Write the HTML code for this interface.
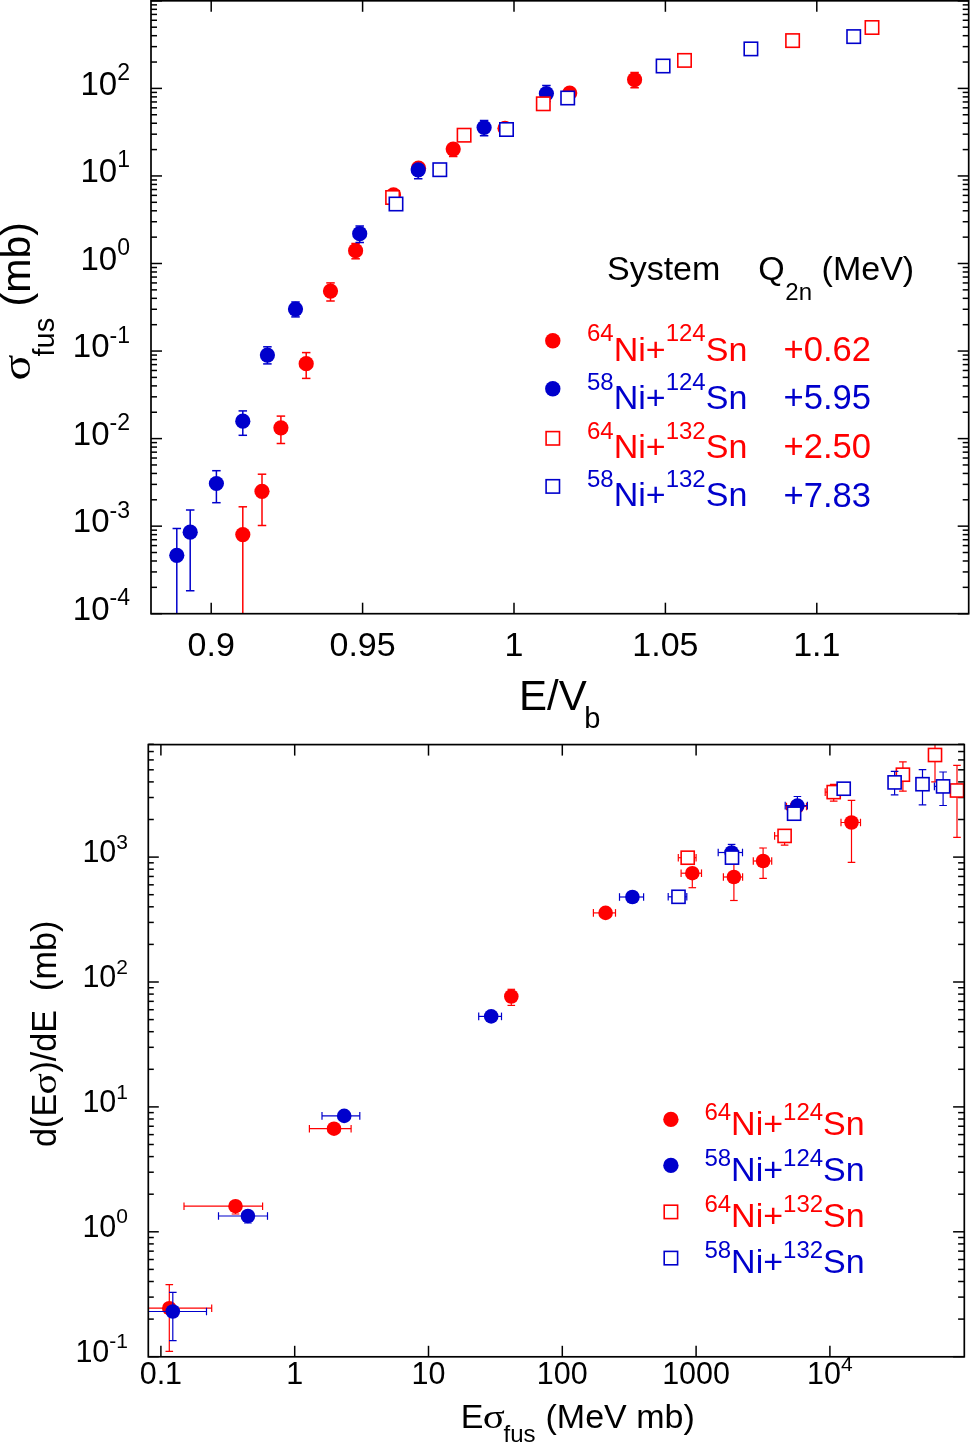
<!DOCTYPE html>
<html><head><meta charset="utf-8"><style>
html,body{margin:0;padding:0;background:#fff;}
svg.main{display:block;will-change:transform;}

</style></head><body>
<svg class="main" width="970" height="1443" viewBox="0 0 970 1443" font-family='"Liberation Sans", sans-serif'>
<rect width="970" height="1443" fill="#fff"/>
<line x1="151.00" y1="613.70" x2="162.00" y2="613.70" stroke="#000" stroke-width="1.5"/>
<line x1="957.70" y1="613.70" x2="968.70" y2="613.70" stroke="#000" stroke-width="1.5"/>
<line x1="151.00" y1="587.34" x2="157.00" y2="587.34" stroke="#000" stroke-width="1.5"/>
<line x1="962.70" y1="587.34" x2="968.70" y2="587.34" stroke="#000" stroke-width="1.5"/>
<line x1="151.00" y1="571.93" x2="157.00" y2="571.93" stroke="#000" stroke-width="1.5"/>
<line x1="962.70" y1="571.93" x2="968.70" y2="571.93" stroke="#000" stroke-width="1.5"/>
<line x1="151.00" y1="560.99" x2="157.00" y2="560.99" stroke="#000" stroke-width="1.5"/>
<line x1="962.70" y1="560.99" x2="968.70" y2="560.99" stroke="#000" stroke-width="1.5"/>
<line x1="151.00" y1="552.51" x2="157.00" y2="552.51" stroke="#000" stroke-width="1.5"/>
<line x1="962.70" y1="552.51" x2="968.70" y2="552.51" stroke="#000" stroke-width="1.5"/>
<line x1="151.00" y1="545.57" x2="157.00" y2="545.57" stroke="#000" stroke-width="1.5"/>
<line x1="962.70" y1="545.57" x2="968.70" y2="545.57" stroke="#000" stroke-width="1.5"/>
<line x1="151.00" y1="539.71" x2="157.00" y2="539.71" stroke="#000" stroke-width="1.5"/>
<line x1="962.70" y1="539.71" x2="968.70" y2="539.71" stroke="#000" stroke-width="1.5"/>
<line x1="151.00" y1="534.63" x2="157.00" y2="534.63" stroke="#000" stroke-width="1.5"/>
<line x1="962.70" y1="534.63" x2="968.70" y2="534.63" stroke="#000" stroke-width="1.5"/>
<line x1="151.00" y1="530.16" x2="157.00" y2="530.16" stroke="#000" stroke-width="1.5"/>
<line x1="962.70" y1="530.16" x2="968.70" y2="530.16" stroke="#000" stroke-width="1.5"/>
<line x1="151.00" y1="526.15" x2="162.00" y2="526.15" stroke="#000" stroke-width="1.5"/>
<line x1="957.70" y1="526.15" x2="968.70" y2="526.15" stroke="#000" stroke-width="1.5"/>
<line x1="151.00" y1="499.79" x2="157.00" y2="499.79" stroke="#000" stroke-width="1.5"/>
<line x1="962.70" y1="499.79" x2="968.70" y2="499.79" stroke="#000" stroke-width="1.5"/>
<line x1="151.00" y1="484.38" x2="157.00" y2="484.38" stroke="#000" stroke-width="1.5"/>
<line x1="962.70" y1="484.38" x2="968.70" y2="484.38" stroke="#000" stroke-width="1.5"/>
<line x1="151.00" y1="473.44" x2="157.00" y2="473.44" stroke="#000" stroke-width="1.5"/>
<line x1="962.70" y1="473.44" x2="968.70" y2="473.44" stroke="#000" stroke-width="1.5"/>
<line x1="151.00" y1="464.96" x2="157.00" y2="464.96" stroke="#000" stroke-width="1.5"/>
<line x1="962.70" y1="464.96" x2="968.70" y2="464.96" stroke="#000" stroke-width="1.5"/>
<line x1="151.00" y1="458.02" x2="157.00" y2="458.02" stroke="#000" stroke-width="1.5"/>
<line x1="962.70" y1="458.02" x2="968.70" y2="458.02" stroke="#000" stroke-width="1.5"/>
<line x1="151.00" y1="452.16" x2="157.00" y2="452.16" stroke="#000" stroke-width="1.5"/>
<line x1="962.70" y1="452.16" x2="968.70" y2="452.16" stroke="#000" stroke-width="1.5"/>
<line x1="151.00" y1="447.08" x2="157.00" y2="447.08" stroke="#000" stroke-width="1.5"/>
<line x1="962.70" y1="447.08" x2="968.70" y2="447.08" stroke="#000" stroke-width="1.5"/>
<line x1="151.00" y1="442.61" x2="157.00" y2="442.61" stroke="#000" stroke-width="1.5"/>
<line x1="962.70" y1="442.61" x2="968.70" y2="442.61" stroke="#000" stroke-width="1.5"/>
<line x1="151.00" y1="438.60" x2="162.00" y2="438.60" stroke="#000" stroke-width="1.5"/>
<line x1="957.70" y1="438.60" x2="968.70" y2="438.60" stroke="#000" stroke-width="1.5"/>
<line x1="151.00" y1="412.24" x2="157.00" y2="412.24" stroke="#000" stroke-width="1.5"/>
<line x1="962.70" y1="412.24" x2="968.70" y2="412.24" stroke="#000" stroke-width="1.5"/>
<line x1="151.00" y1="396.83" x2="157.00" y2="396.83" stroke="#000" stroke-width="1.5"/>
<line x1="962.70" y1="396.83" x2="968.70" y2="396.83" stroke="#000" stroke-width="1.5"/>
<line x1="151.00" y1="385.89" x2="157.00" y2="385.89" stroke="#000" stroke-width="1.5"/>
<line x1="962.70" y1="385.89" x2="968.70" y2="385.89" stroke="#000" stroke-width="1.5"/>
<line x1="151.00" y1="377.41" x2="157.00" y2="377.41" stroke="#000" stroke-width="1.5"/>
<line x1="962.70" y1="377.41" x2="968.70" y2="377.41" stroke="#000" stroke-width="1.5"/>
<line x1="151.00" y1="370.47" x2="157.00" y2="370.47" stroke="#000" stroke-width="1.5"/>
<line x1="962.70" y1="370.47" x2="968.70" y2="370.47" stroke="#000" stroke-width="1.5"/>
<line x1="151.00" y1="364.61" x2="157.00" y2="364.61" stroke="#000" stroke-width="1.5"/>
<line x1="962.70" y1="364.61" x2="968.70" y2="364.61" stroke="#000" stroke-width="1.5"/>
<line x1="151.00" y1="359.53" x2="157.00" y2="359.53" stroke="#000" stroke-width="1.5"/>
<line x1="962.70" y1="359.53" x2="968.70" y2="359.53" stroke="#000" stroke-width="1.5"/>
<line x1="151.00" y1="355.06" x2="157.00" y2="355.06" stroke="#000" stroke-width="1.5"/>
<line x1="962.70" y1="355.06" x2="968.70" y2="355.06" stroke="#000" stroke-width="1.5"/>
<line x1="151.00" y1="351.05" x2="162.00" y2="351.05" stroke="#000" stroke-width="1.5"/>
<line x1="957.70" y1="351.05" x2="968.70" y2="351.05" stroke="#000" stroke-width="1.5"/>
<line x1="151.00" y1="324.69" x2="157.00" y2="324.69" stroke="#000" stroke-width="1.5"/>
<line x1="962.70" y1="324.69" x2="968.70" y2="324.69" stroke="#000" stroke-width="1.5"/>
<line x1="151.00" y1="309.28" x2="157.00" y2="309.28" stroke="#000" stroke-width="1.5"/>
<line x1="962.70" y1="309.28" x2="968.70" y2="309.28" stroke="#000" stroke-width="1.5"/>
<line x1="151.00" y1="298.34" x2="157.00" y2="298.34" stroke="#000" stroke-width="1.5"/>
<line x1="962.70" y1="298.34" x2="968.70" y2="298.34" stroke="#000" stroke-width="1.5"/>
<line x1="151.00" y1="289.86" x2="157.00" y2="289.86" stroke="#000" stroke-width="1.5"/>
<line x1="962.70" y1="289.86" x2="968.70" y2="289.86" stroke="#000" stroke-width="1.5"/>
<line x1="151.00" y1="282.92" x2="157.00" y2="282.92" stroke="#000" stroke-width="1.5"/>
<line x1="962.70" y1="282.92" x2="968.70" y2="282.92" stroke="#000" stroke-width="1.5"/>
<line x1="151.00" y1="277.06" x2="157.00" y2="277.06" stroke="#000" stroke-width="1.5"/>
<line x1="962.70" y1="277.06" x2="968.70" y2="277.06" stroke="#000" stroke-width="1.5"/>
<line x1="151.00" y1="271.98" x2="157.00" y2="271.98" stroke="#000" stroke-width="1.5"/>
<line x1="962.70" y1="271.98" x2="968.70" y2="271.98" stroke="#000" stroke-width="1.5"/>
<line x1="151.00" y1="267.51" x2="157.00" y2="267.51" stroke="#000" stroke-width="1.5"/>
<line x1="962.70" y1="267.51" x2="968.70" y2="267.51" stroke="#000" stroke-width="1.5"/>
<line x1="151.00" y1="263.50" x2="162.00" y2="263.50" stroke="#000" stroke-width="1.5"/>
<line x1="957.70" y1="263.50" x2="968.70" y2="263.50" stroke="#000" stroke-width="1.5"/>
<line x1="151.00" y1="237.14" x2="157.00" y2="237.14" stroke="#000" stroke-width="1.5"/>
<line x1="962.70" y1="237.14" x2="968.70" y2="237.14" stroke="#000" stroke-width="1.5"/>
<line x1="151.00" y1="221.73" x2="157.00" y2="221.73" stroke="#000" stroke-width="1.5"/>
<line x1="962.70" y1="221.73" x2="968.70" y2="221.73" stroke="#000" stroke-width="1.5"/>
<line x1="151.00" y1="210.79" x2="157.00" y2="210.79" stroke="#000" stroke-width="1.5"/>
<line x1="962.70" y1="210.79" x2="968.70" y2="210.79" stroke="#000" stroke-width="1.5"/>
<line x1="151.00" y1="202.31" x2="157.00" y2="202.31" stroke="#000" stroke-width="1.5"/>
<line x1="962.70" y1="202.31" x2="968.70" y2="202.31" stroke="#000" stroke-width="1.5"/>
<line x1="151.00" y1="195.37" x2="157.00" y2="195.37" stroke="#000" stroke-width="1.5"/>
<line x1="962.70" y1="195.37" x2="968.70" y2="195.37" stroke="#000" stroke-width="1.5"/>
<line x1="151.00" y1="189.51" x2="157.00" y2="189.51" stroke="#000" stroke-width="1.5"/>
<line x1="962.70" y1="189.51" x2="968.70" y2="189.51" stroke="#000" stroke-width="1.5"/>
<line x1="151.00" y1="184.43" x2="157.00" y2="184.43" stroke="#000" stroke-width="1.5"/>
<line x1="962.70" y1="184.43" x2="968.70" y2="184.43" stroke="#000" stroke-width="1.5"/>
<line x1="151.00" y1="179.96" x2="157.00" y2="179.96" stroke="#000" stroke-width="1.5"/>
<line x1="962.70" y1="179.96" x2="968.70" y2="179.96" stroke="#000" stroke-width="1.5"/>
<line x1="151.00" y1="175.95" x2="162.00" y2="175.95" stroke="#000" stroke-width="1.5"/>
<line x1="957.70" y1="175.95" x2="968.70" y2="175.95" stroke="#000" stroke-width="1.5"/>
<line x1="151.00" y1="149.59" x2="157.00" y2="149.59" stroke="#000" stroke-width="1.5"/>
<line x1="962.70" y1="149.59" x2="968.70" y2="149.59" stroke="#000" stroke-width="1.5"/>
<line x1="151.00" y1="134.18" x2="157.00" y2="134.18" stroke="#000" stroke-width="1.5"/>
<line x1="962.70" y1="134.18" x2="968.70" y2="134.18" stroke="#000" stroke-width="1.5"/>
<line x1="151.00" y1="123.24" x2="157.00" y2="123.24" stroke="#000" stroke-width="1.5"/>
<line x1="962.70" y1="123.24" x2="968.70" y2="123.24" stroke="#000" stroke-width="1.5"/>
<line x1="151.00" y1="114.76" x2="157.00" y2="114.76" stroke="#000" stroke-width="1.5"/>
<line x1="962.70" y1="114.76" x2="968.70" y2="114.76" stroke="#000" stroke-width="1.5"/>
<line x1="151.00" y1="107.82" x2="157.00" y2="107.82" stroke="#000" stroke-width="1.5"/>
<line x1="962.70" y1="107.82" x2="968.70" y2="107.82" stroke="#000" stroke-width="1.5"/>
<line x1="151.00" y1="101.96" x2="157.00" y2="101.96" stroke="#000" stroke-width="1.5"/>
<line x1="962.70" y1="101.96" x2="968.70" y2="101.96" stroke="#000" stroke-width="1.5"/>
<line x1="151.00" y1="96.88" x2="157.00" y2="96.88" stroke="#000" stroke-width="1.5"/>
<line x1="962.70" y1="96.88" x2="968.70" y2="96.88" stroke="#000" stroke-width="1.5"/>
<line x1="151.00" y1="92.41" x2="157.00" y2="92.41" stroke="#000" stroke-width="1.5"/>
<line x1="962.70" y1="92.41" x2="968.70" y2="92.41" stroke="#000" stroke-width="1.5"/>
<line x1="151.00" y1="88.40" x2="162.00" y2="88.40" stroke="#000" stroke-width="1.5"/>
<line x1="957.70" y1="88.40" x2="968.70" y2="88.40" stroke="#000" stroke-width="1.5"/>
<line x1="151.00" y1="62.04" x2="157.00" y2="62.04" stroke="#000" stroke-width="1.5"/>
<line x1="962.70" y1="62.04" x2="968.70" y2="62.04" stroke="#000" stroke-width="1.5"/>
<line x1="151.00" y1="46.63" x2="157.00" y2="46.63" stroke="#000" stroke-width="1.5"/>
<line x1="962.70" y1="46.63" x2="968.70" y2="46.63" stroke="#000" stroke-width="1.5"/>
<line x1="151.00" y1="35.69" x2="157.00" y2="35.69" stroke="#000" stroke-width="1.5"/>
<line x1="962.70" y1="35.69" x2="968.70" y2="35.69" stroke="#000" stroke-width="1.5"/>
<line x1="151.00" y1="27.21" x2="157.00" y2="27.21" stroke="#000" stroke-width="1.5"/>
<line x1="962.70" y1="27.21" x2="968.70" y2="27.21" stroke="#000" stroke-width="1.5"/>
<line x1="151.00" y1="20.27" x2="157.00" y2="20.27" stroke="#000" stroke-width="1.5"/>
<line x1="962.70" y1="20.27" x2="968.70" y2="20.27" stroke="#000" stroke-width="1.5"/>
<line x1="151.00" y1="14.41" x2="157.00" y2="14.41" stroke="#000" stroke-width="1.5"/>
<line x1="962.70" y1="14.41" x2="968.70" y2="14.41" stroke="#000" stroke-width="1.5"/>
<line x1="151.00" y1="9.33" x2="157.00" y2="9.33" stroke="#000" stroke-width="1.5"/>
<line x1="962.70" y1="9.33" x2="968.70" y2="9.33" stroke="#000" stroke-width="1.5"/>
<line x1="151.00" y1="4.86" x2="157.00" y2="4.86" stroke="#000" stroke-width="1.5"/>
<line x1="962.70" y1="4.86" x2="968.70" y2="4.86" stroke="#000" stroke-width="1.5"/>
<line x1="151.00" y1="0.85" x2="162.00" y2="0.85" stroke="#000" stroke-width="1.5"/>
<line x1="957.70" y1="0.85" x2="968.70" y2="0.85" stroke="#000" stroke-width="1.5"/>
<line x1="211.20" y1="613.70" x2="211.20" y2="602.70" stroke="#000" stroke-width="1.5"/>
<line x1="211.20" y1="0.80" x2="211.20" y2="11.80" stroke="#000" stroke-width="1.5"/>
<line x1="362.60" y1="613.70" x2="362.60" y2="602.70" stroke="#000" stroke-width="1.5"/>
<line x1="362.60" y1="0.80" x2="362.60" y2="11.80" stroke="#000" stroke-width="1.5"/>
<line x1="514.00" y1="613.70" x2="514.00" y2="602.70" stroke="#000" stroke-width="1.5"/>
<line x1="514.00" y1="0.80" x2="514.00" y2="11.80" stroke="#000" stroke-width="1.5"/>
<line x1="665.40" y1="613.70" x2="665.40" y2="602.70" stroke="#000" stroke-width="1.5"/>
<line x1="665.40" y1="0.80" x2="665.40" y2="11.80" stroke="#000" stroke-width="1.5"/>
<line x1="816.80" y1="613.70" x2="816.80" y2="602.70" stroke="#000" stroke-width="1.5"/>
<line x1="816.80" y1="0.80" x2="816.80" y2="11.80" stroke="#000" stroke-width="1.5"/>
<text x="211.20" y="656.3" font-size="34" text-anchor="middle">0.9</text>
<text x="362.60" y="656.3" font-size="34" text-anchor="middle">0.95</text>
<text x="514.00" y="656.3" font-size="34" text-anchor="middle">1</text>
<text x="665.40" y="656.3" font-size="34" text-anchor="middle">1.05</text>
<text x="816.80" y="656.3" font-size="34" text-anchor="middle">1.1</text>
<text x="130" y="620.00" font-size="33" text-anchor="end">10<tspan dy="-14.8" font-size="23">-4</tspan></text>
<text x="130" y="532.45" font-size="33" text-anchor="end">10<tspan dy="-14.8" font-size="23">-3</tspan></text>
<text x="130" y="444.90" font-size="33" text-anchor="end">10<tspan dy="-14.8" font-size="23">-2</tspan></text>
<text x="130" y="357.35" font-size="33" text-anchor="end">10<tspan dy="-14.8" font-size="23">-1</tspan></text>
<text x="130" y="269.80" font-size="33" text-anchor="end">10<tspan dy="-14.8" font-size="23">0</tspan></text>
<text x="130" y="182.25" font-size="33" text-anchor="end">10<tspan dy="-14.8" font-size="23">1</tspan></text>
<text x="130" y="94.70" font-size="33" text-anchor="end">10<tspan dy="-14.8" font-size="23">2</tspan></text>
<g transform="translate(30.3,378.6) rotate(-90)"><text transform="translate(-1.84,0) scale(1.175,1)" font-size="41" font-family='"Liberation Serif", serif'>&#963;</text><text x="22.1" y="24" font-size="29">fus</text><text x="60.79" y="0" font-size="41">&#160;(mb)</text></g>
<text x="519" y="709.9" font-size="42">E/V<tspan x="584.2" dy="18" font-size="29">b</tspan></text>
<text x="607" y="280.1" font-size="34">System</text>
<text x="758.3" y="279.9" font-size="34">Q<tspan dy="19.8" font-size="24" x="785.3">2n</tspan></text>
<text x="821.6" y="279.9" font-size="34">(MeV)</text>
<circle cx="552.80" cy="340.70" r="7.7" fill="#ff0000"/>
<text x="587" y="360.9" font-size="34" fill="#ff0000"><tspan font-size="24" dy="-19.5">64</tspan><tspan dy="19.5">Ni+</tspan><tspan font-size="24" dy="-19.5">124</tspan><tspan dy="19.5">Sn</tspan></text>
<text x="783.6" y="361.2" font-size="34.6" fill="#ff0000">+0.62</text>
<circle cx="552.80" cy="388.80" r="7.7" fill="#0000cc"/>
<text x="587" y="409.1" font-size="34" fill="#0000cc"><tspan font-size="24" dy="-19.5">58</tspan><tspan dy="19.5">Ni+</tspan><tspan font-size="24" dy="-19.5">124</tspan><tspan dy="19.5">Sn</tspan></text>
<text x="783.6" y="409.40000000000003" font-size="34.6" fill="#0000cc">+5.95</text>
<rect x="546.10" y="431.60" width="13.4" height="13.4" fill="#fff" stroke="#ff0000" stroke-width="1.6"/>
<text x="587" y="458.0" font-size="34" fill="#ff0000"><tspan font-size="24" dy="-19.5">64</tspan><tspan dy="19.5">Ni+</tspan><tspan font-size="24" dy="-19.5">132</tspan><tspan dy="19.5">Sn</tspan></text>
<text x="783.6" y="458.3" font-size="34.6" fill="#ff0000">+2.50</text>
<rect x="546.10" y="479.70" width="13.4" height="13.4" fill="#fff" stroke="#0000cc" stroke-width="1.6"/>
<text x="587" y="506.2" font-size="34" fill="#0000cc"><tspan font-size="24" dy="-19.5">58</tspan><tspan dy="19.5">Ni+</tspan><tspan font-size="24" dy="-19.5">132</tspan><tspan dy="19.5">Sn</tspan></text>
<text x="783.6" y="506.5" font-size="34.6" fill="#0000cc">+7.83</text>
<svg x="151.0" y="0.8" width="817.7" height="612.9000000000001" viewBox="151.0 0.8 817.7 612.9000000000001" overflow="hidden">
<line x1="242.80" y1="506.80" x2="242.80" y2="640.00" stroke="#ff0000" stroke-width="1.5"/>
<line x1="238.55" y1="506.80" x2="247.05" y2="506.80" stroke="#ff0000" stroke-width="1.5"/>
<circle cx="242.80" cy="534.60" r="7.6" fill="#ff0000"/>
<line x1="262.00" y1="474.20" x2="262.00" y2="525.40" stroke="#ff0000" stroke-width="1.5"/>
<line x1="257.75" y1="474.20" x2="266.25" y2="474.20" stroke="#ff0000" stroke-width="1.5"/>
<line x1="257.75" y1="525.40" x2="266.25" y2="525.40" stroke="#ff0000" stroke-width="1.5"/>
<circle cx="262.00" cy="491.30" r="7.6" fill="#ff0000"/>
<line x1="280.90" y1="416.10" x2="280.90" y2="443.50" stroke="#ff0000" stroke-width="1.5"/>
<line x1="276.65" y1="416.10" x2="285.15" y2="416.10" stroke="#ff0000" stroke-width="1.5"/>
<line x1="276.65" y1="443.50" x2="285.15" y2="443.50" stroke="#ff0000" stroke-width="1.5"/>
<circle cx="280.90" cy="427.80" r="7.6" fill="#ff0000"/>
<line x1="306.20" y1="352.60" x2="306.20" y2="378.40" stroke="#ff0000" stroke-width="1.5"/>
<line x1="301.95" y1="352.60" x2="310.45" y2="352.60" stroke="#ff0000" stroke-width="1.5"/>
<line x1="301.95" y1="378.40" x2="310.45" y2="378.40" stroke="#ff0000" stroke-width="1.5"/>
<circle cx="306.20" cy="363.70" r="7.6" fill="#ff0000"/>
<line x1="330.50" y1="282.90" x2="330.50" y2="301.00" stroke="#ff0000" stroke-width="1.5"/>
<line x1="326.25" y1="282.90" x2="334.75" y2="282.90" stroke="#ff0000" stroke-width="1.5"/>
<line x1="326.25" y1="301.00" x2="334.75" y2="301.00" stroke="#ff0000" stroke-width="1.5"/>
<circle cx="330.50" cy="291.10" r="7.6" fill="#ff0000"/>
<line x1="355.60" y1="243.50" x2="355.60" y2="258.80" stroke="#ff0000" stroke-width="1.5"/>
<line x1="351.35" y1="243.50" x2="359.85" y2="243.50" stroke="#ff0000" stroke-width="1.5"/>
<line x1="351.35" y1="258.80" x2="359.85" y2="258.80" stroke="#ff0000" stroke-width="1.5"/>
<circle cx="355.60" cy="250.70" r="7.6" fill="#ff0000"/>
<circle cx="393.50" cy="194.90" r="7.6" fill="#ff0000"/>
<circle cx="418.50" cy="168.20" r="7.6" fill="#ff0000"/>
<line x1="453.20" y1="149.10" x2="453.20" y2="156.50" stroke="#ff0000" stroke-width="1.5"/>
<line x1="448.95" y1="149.10" x2="457.45" y2="149.10" stroke="#ff0000" stroke-width="1.5"/>
<line x1="448.95" y1="156.50" x2="457.45" y2="156.50" stroke="#ff0000" stroke-width="1.5"/>
<circle cx="453.20" cy="149.10" r="7.6" fill="#ff0000"/>
<circle cx="505.00" cy="128.30" r="7.6" fill="#ff0000"/>
<circle cx="569.70" cy="93.00" r="7.6" fill="#ff0000"/>
<line x1="634.60" y1="72.50" x2="634.60" y2="87.70" stroke="#ff0000" stroke-width="1.5"/>
<line x1="630.35" y1="72.50" x2="638.85" y2="72.50" stroke="#ff0000" stroke-width="1.5"/>
<line x1="630.35" y1="87.70" x2="638.85" y2="87.70" stroke="#ff0000" stroke-width="1.5"/>
<circle cx="634.60" cy="79.70" r="7.6" fill="#ff0000"/>
<line x1="176.80" y1="528.50" x2="176.80" y2="640.00" stroke="#0000cc" stroke-width="1.5"/>
<line x1="172.55" y1="528.50" x2="181.05" y2="528.50" stroke="#0000cc" stroke-width="1.5"/>
<circle cx="176.80" cy="555.30" r="7.6" fill="#0000cc"/>
<line x1="190.20" y1="509.90" x2="190.20" y2="590.70" stroke="#0000cc" stroke-width="1.5"/>
<line x1="185.95" y1="509.90" x2="194.45" y2="509.90" stroke="#0000cc" stroke-width="1.5"/>
<line x1="185.95" y1="590.70" x2="194.45" y2="590.70" stroke="#0000cc" stroke-width="1.5"/>
<circle cx="190.20" cy="532.20" r="7.6" fill="#0000cc"/>
<line x1="216.40" y1="470.70" x2="216.40" y2="502.70" stroke="#0000cc" stroke-width="1.5"/>
<line x1="212.15" y1="470.70" x2="220.65" y2="470.70" stroke="#0000cc" stroke-width="1.5"/>
<line x1="212.15" y1="502.70" x2="220.65" y2="502.70" stroke="#0000cc" stroke-width="1.5"/>
<circle cx="216.40" cy="483.50" r="7.6" fill="#0000cc"/>
<line x1="242.80" y1="410.90" x2="242.80" y2="435.30" stroke="#0000cc" stroke-width="1.5"/>
<line x1="238.55" y1="410.90" x2="247.05" y2="410.90" stroke="#0000cc" stroke-width="1.5"/>
<line x1="238.55" y1="435.30" x2="247.05" y2="435.30" stroke="#0000cc" stroke-width="1.5"/>
<circle cx="242.80" cy="421.20" r="7.6" fill="#0000cc"/>
<line x1="267.40" y1="346.80" x2="267.40" y2="363.90" stroke="#0000cc" stroke-width="1.5"/>
<line x1="263.15" y1="346.80" x2="271.65" y2="346.80" stroke="#0000cc" stroke-width="1.5"/>
<line x1="263.15" y1="363.90" x2="271.65" y2="363.90" stroke="#0000cc" stroke-width="1.5"/>
<circle cx="267.40" cy="355.10" r="7.6" fill="#0000cc"/>
<line x1="295.50" y1="302.00" x2="295.50" y2="316.90" stroke="#0000cc" stroke-width="1.5"/>
<line x1="291.25" y1="302.00" x2="299.75" y2="302.00" stroke="#0000cc" stroke-width="1.5"/>
<line x1="291.25" y1="316.90" x2="299.75" y2="316.90" stroke="#0000cc" stroke-width="1.5"/>
<circle cx="295.50" cy="309.10" r="7.6" fill="#0000cc"/>
<line x1="359.70" y1="226.00" x2="359.70" y2="242.60" stroke="#0000cc" stroke-width="1.5"/>
<line x1="355.45" y1="226.00" x2="363.95" y2="226.00" stroke="#0000cc" stroke-width="1.5"/>
<line x1="355.45" y1="242.60" x2="363.95" y2="242.60" stroke="#0000cc" stroke-width="1.5"/>
<circle cx="359.70" cy="233.70" r="7.6" fill="#0000cc"/>
<line x1="418.20" y1="169.90" x2="418.20" y2="178.80" stroke="#0000cc" stroke-width="1.5"/>
<line x1="413.95" y1="169.90" x2="422.45" y2="169.90" stroke="#0000cc" stroke-width="1.5"/>
<line x1="413.95" y1="178.80" x2="422.45" y2="178.80" stroke="#0000cc" stroke-width="1.5"/>
<circle cx="418.20" cy="169.90" r="7.6" fill="#0000cc"/>
<line x1="484.10" y1="120.60" x2="484.10" y2="135.80" stroke="#0000cc" stroke-width="1.5"/>
<line x1="479.85" y1="120.60" x2="488.35" y2="120.60" stroke="#0000cc" stroke-width="1.5"/>
<line x1="479.85" y1="135.80" x2="488.35" y2="135.80" stroke="#0000cc" stroke-width="1.5"/>
<circle cx="484.10" cy="127.50" r="7.6" fill="#0000cc"/>
<line x1="546.40" y1="85.40" x2="546.40" y2="101.50" stroke="#0000cc" stroke-width="1.5"/>
<line x1="542.15" y1="85.40" x2="550.65" y2="85.40" stroke="#0000cc" stroke-width="1.5"/>
<line x1="542.15" y1="101.50" x2="550.65" y2="101.50" stroke="#0000cc" stroke-width="1.5"/>
<circle cx="546.40" cy="93.60" r="7.6" fill="#0000cc"/>
<rect x="385.90" y="190.80" width="13.4" height="13.4" fill="#fff" stroke="#ff0000" stroke-width="1.6"/>
<rect x="457.40" y="128.50" width="13.4" height="13.4" fill="#fff" stroke="#ff0000" stroke-width="1.6"/>
<rect x="536.60" y="97.10" width="13.4" height="13.4" fill="#fff" stroke="#ff0000" stroke-width="1.6"/>
<rect x="677.80" y="53.70" width="13.4" height="13.4" fill="#fff" stroke="#ff0000" stroke-width="1.6"/>
<rect x="785.90" y="33.90" width="13.4" height="13.4" fill="#fff" stroke="#ff0000" stroke-width="1.6"/>
<rect x="865.30" y="20.80" width="13.4" height="13.4" fill="#fff" stroke="#ff0000" stroke-width="1.6"/>
<rect x="389.30" y="197.30" width="13.4" height="13.4" fill="#fff" stroke="#0000cc" stroke-width="1.6"/>
<rect x="433.10" y="163.00" width="13.4" height="13.4" fill="#fff" stroke="#0000cc" stroke-width="1.6"/>
<rect x="499.80" y="122.80" width="13.4" height="13.4" fill="#fff" stroke="#0000cc" stroke-width="1.6"/>
<rect x="561.00" y="91.30" width="13.4" height="13.4" fill="#fff" stroke="#0000cc" stroke-width="1.6"/>
<rect x="656.40" y="59.30" width="13.4" height="13.4" fill="#fff" stroke="#0000cc" stroke-width="1.6"/>
<rect x="744.20" y="42.20" width="13.4" height="13.4" fill="#fff" stroke="#0000cc" stroke-width="1.6"/>
<rect x="847.00" y="29.90" width="13.4" height="13.4" fill="#fff" stroke="#0000cc" stroke-width="1.6"/>
</svg>
<rect x="151.0" y="0.8" width="817.7" height="612.9000000000001" fill="none" stroke="#000" stroke-width="1.7"/>
<line x1="148.30" y1="1356.70" x2="158.80" y2="1356.70" stroke="#000" stroke-width="1.5"/>
<line x1="953.10" y1="1356.70" x2="964.30" y2="1356.70" stroke="#000" stroke-width="1.5"/>
<line x1="148.30" y1="1319.10" x2="153.80" y2="1319.10" stroke="#000" stroke-width="1.5"/>
<line x1="958.10" y1="1319.10" x2="964.30" y2="1319.10" stroke="#000" stroke-width="1.5"/>
<line x1="148.30" y1="1297.11" x2="153.80" y2="1297.11" stroke="#000" stroke-width="1.5"/>
<line x1="958.10" y1="1297.11" x2="964.30" y2="1297.11" stroke="#000" stroke-width="1.5"/>
<line x1="148.30" y1="1281.50" x2="153.80" y2="1281.50" stroke="#000" stroke-width="1.5"/>
<line x1="958.10" y1="1281.50" x2="964.30" y2="1281.50" stroke="#000" stroke-width="1.5"/>
<line x1="148.30" y1="1269.40" x2="153.80" y2="1269.40" stroke="#000" stroke-width="1.5"/>
<line x1="958.10" y1="1269.40" x2="964.30" y2="1269.40" stroke="#000" stroke-width="1.5"/>
<line x1="148.30" y1="1259.51" x2="153.80" y2="1259.51" stroke="#000" stroke-width="1.5"/>
<line x1="958.10" y1="1259.51" x2="964.30" y2="1259.51" stroke="#000" stroke-width="1.5"/>
<line x1="148.30" y1="1251.15" x2="153.80" y2="1251.15" stroke="#000" stroke-width="1.5"/>
<line x1="958.10" y1="1251.15" x2="964.30" y2="1251.15" stroke="#000" stroke-width="1.5"/>
<line x1="148.30" y1="1243.90" x2="153.80" y2="1243.90" stroke="#000" stroke-width="1.5"/>
<line x1="958.10" y1="1243.90" x2="964.30" y2="1243.90" stroke="#000" stroke-width="1.5"/>
<line x1="148.30" y1="1237.52" x2="153.80" y2="1237.52" stroke="#000" stroke-width="1.5"/>
<line x1="958.10" y1="1237.52" x2="964.30" y2="1237.52" stroke="#000" stroke-width="1.5"/>
<line x1="148.30" y1="1231.80" x2="158.80" y2="1231.80" stroke="#000" stroke-width="1.5"/>
<line x1="953.10" y1="1231.80" x2="964.30" y2="1231.80" stroke="#000" stroke-width="1.5"/>
<line x1="148.30" y1="1194.20" x2="153.80" y2="1194.20" stroke="#000" stroke-width="1.5"/>
<line x1="958.10" y1="1194.20" x2="964.30" y2="1194.20" stroke="#000" stroke-width="1.5"/>
<line x1="148.30" y1="1172.21" x2="153.80" y2="1172.21" stroke="#000" stroke-width="1.5"/>
<line x1="958.10" y1="1172.21" x2="964.30" y2="1172.21" stroke="#000" stroke-width="1.5"/>
<line x1="148.30" y1="1156.60" x2="153.80" y2="1156.60" stroke="#000" stroke-width="1.5"/>
<line x1="958.10" y1="1156.60" x2="964.30" y2="1156.60" stroke="#000" stroke-width="1.5"/>
<line x1="148.30" y1="1144.50" x2="153.80" y2="1144.50" stroke="#000" stroke-width="1.5"/>
<line x1="958.10" y1="1144.50" x2="964.30" y2="1144.50" stroke="#000" stroke-width="1.5"/>
<line x1="148.30" y1="1134.61" x2="153.80" y2="1134.61" stroke="#000" stroke-width="1.5"/>
<line x1="958.10" y1="1134.61" x2="964.30" y2="1134.61" stroke="#000" stroke-width="1.5"/>
<line x1="148.30" y1="1126.25" x2="153.80" y2="1126.25" stroke="#000" stroke-width="1.5"/>
<line x1="958.10" y1="1126.25" x2="964.30" y2="1126.25" stroke="#000" stroke-width="1.5"/>
<line x1="148.30" y1="1119.00" x2="153.80" y2="1119.00" stroke="#000" stroke-width="1.5"/>
<line x1="958.10" y1="1119.00" x2="964.30" y2="1119.00" stroke="#000" stroke-width="1.5"/>
<line x1="148.30" y1="1112.62" x2="153.80" y2="1112.62" stroke="#000" stroke-width="1.5"/>
<line x1="958.10" y1="1112.62" x2="964.30" y2="1112.62" stroke="#000" stroke-width="1.5"/>
<line x1="148.30" y1="1106.90" x2="158.80" y2="1106.90" stroke="#000" stroke-width="1.5"/>
<line x1="953.10" y1="1106.90" x2="964.30" y2="1106.90" stroke="#000" stroke-width="1.5"/>
<line x1="148.30" y1="1069.30" x2="153.80" y2="1069.30" stroke="#000" stroke-width="1.5"/>
<line x1="958.10" y1="1069.30" x2="964.30" y2="1069.30" stroke="#000" stroke-width="1.5"/>
<line x1="148.30" y1="1047.31" x2="153.80" y2="1047.31" stroke="#000" stroke-width="1.5"/>
<line x1="958.10" y1="1047.31" x2="964.30" y2="1047.31" stroke="#000" stroke-width="1.5"/>
<line x1="148.30" y1="1031.70" x2="153.80" y2="1031.70" stroke="#000" stroke-width="1.5"/>
<line x1="958.10" y1="1031.70" x2="964.30" y2="1031.70" stroke="#000" stroke-width="1.5"/>
<line x1="148.30" y1="1019.60" x2="153.80" y2="1019.60" stroke="#000" stroke-width="1.5"/>
<line x1="958.10" y1="1019.60" x2="964.30" y2="1019.60" stroke="#000" stroke-width="1.5"/>
<line x1="148.30" y1="1009.71" x2="153.80" y2="1009.71" stroke="#000" stroke-width="1.5"/>
<line x1="958.10" y1="1009.71" x2="964.30" y2="1009.71" stroke="#000" stroke-width="1.5"/>
<line x1="148.30" y1="1001.35" x2="153.80" y2="1001.35" stroke="#000" stroke-width="1.5"/>
<line x1="958.10" y1="1001.35" x2="964.30" y2="1001.35" stroke="#000" stroke-width="1.5"/>
<line x1="148.30" y1="994.10" x2="153.80" y2="994.10" stroke="#000" stroke-width="1.5"/>
<line x1="958.10" y1="994.10" x2="964.30" y2="994.10" stroke="#000" stroke-width="1.5"/>
<line x1="148.30" y1="987.72" x2="153.80" y2="987.72" stroke="#000" stroke-width="1.5"/>
<line x1="958.10" y1="987.72" x2="964.30" y2="987.72" stroke="#000" stroke-width="1.5"/>
<line x1="148.30" y1="982.00" x2="158.80" y2="982.00" stroke="#000" stroke-width="1.5"/>
<line x1="953.10" y1="982.00" x2="964.30" y2="982.00" stroke="#000" stroke-width="1.5"/>
<line x1="148.30" y1="944.40" x2="153.80" y2="944.40" stroke="#000" stroke-width="1.5"/>
<line x1="958.10" y1="944.40" x2="964.30" y2="944.40" stroke="#000" stroke-width="1.5"/>
<line x1="148.30" y1="922.41" x2="153.80" y2="922.41" stroke="#000" stroke-width="1.5"/>
<line x1="958.10" y1="922.41" x2="964.30" y2="922.41" stroke="#000" stroke-width="1.5"/>
<line x1="148.30" y1="906.80" x2="153.80" y2="906.80" stroke="#000" stroke-width="1.5"/>
<line x1="958.10" y1="906.80" x2="964.30" y2="906.80" stroke="#000" stroke-width="1.5"/>
<line x1="148.30" y1="894.70" x2="153.80" y2="894.70" stroke="#000" stroke-width="1.5"/>
<line x1="958.10" y1="894.70" x2="964.30" y2="894.70" stroke="#000" stroke-width="1.5"/>
<line x1="148.30" y1="884.81" x2="153.80" y2="884.81" stroke="#000" stroke-width="1.5"/>
<line x1="958.10" y1="884.81" x2="964.30" y2="884.81" stroke="#000" stroke-width="1.5"/>
<line x1="148.30" y1="876.45" x2="153.80" y2="876.45" stroke="#000" stroke-width="1.5"/>
<line x1="958.10" y1="876.45" x2="964.30" y2="876.45" stroke="#000" stroke-width="1.5"/>
<line x1="148.30" y1="869.20" x2="153.80" y2="869.20" stroke="#000" stroke-width="1.5"/>
<line x1="958.10" y1="869.20" x2="964.30" y2="869.20" stroke="#000" stroke-width="1.5"/>
<line x1="148.30" y1="862.82" x2="153.80" y2="862.82" stroke="#000" stroke-width="1.5"/>
<line x1="958.10" y1="862.82" x2="964.30" y2="862.82" stroke="#000" stroke-width="1.5"/>
<line x1="148.30" y1="857.10" x2="158.80" y2="857.10" stroke="#000" stroke-width="1.5"/>
<line x1="953.10" y1="857.10" x2="964.30" y2="857.10" stroke="#000" stroke-width="1.5"/>
<line x1="148.30" y1="819.50" x2="153.80" y2="819.50" stroke="#000" stroke-width="1.5"/>
<line x1="958.10" y1="819.50" x2="964.30" y2="819.50" stroke="#000" stroke-width="1.5"/>
<line x1="148.30" y1="797.51" x2="153.80" y2="797.51" stroke="#000" stroke-width="1.5"/>
<line x1="958.10" y1="797.51" x2="964.30" y2="797.51" stroke="#000" stroke-width="1.5"/>
<line x1="148.30" y1="781.90" x2="153.80" y2="781.90" stroke="#000" stroke-width="1.5"/>
<line x1="958.10" y1="781.90" x2="964.30" y2="781.90" stroke="#000" stroke-width="1.5"/>
<line x1="148.30" y1="769.80" x2="153.80" y2="769.80" stroke="#000" stroke-width="1.5"/>
<line x1="958.10" y1="769.80" x2="964.30" y2="769.80" stroke="#000" stroke-width="1.5"/>
<line x1="148.30" y1="759.91" x2="153.80" y2="759.91" stroke="#000" stroke-width="1.5"/>
<line x1="958.10" y1="759.91" x2="964.30" y2="759.91" stroke="#000" stroke-width="1.5"/>
<line x1="148.30" y1="751.55" x2="153.80" y2="751.55" stroke="#000" stroke-width="1.5"/>
<line x1="958.10" y1="751.55" x2="964.30" y2="751.55" stroke="#000" stroke-width="1.5"/>
<line x1="148.30" y1="744.30" x2="153.80" y2="744.30" stroke="#000" stroke-width="1.5"/>
<line x1="958.10" y1="744.30" x2="964.30" y2="744.30" stroke="#000" stroke-width="1.5"/>
<line x1="160.90" y1="1356.80" x2="160.90" y2="1345.80" stroke="#000" stroke-width="1.5"/>
<line x1="160.90" y1="744.60" x2="160.90" y2="755.60" stroke="#000" stroke-width="1.5"/>
<line x1="294.70" y1="1356.80" x2="294.70" y2="1345.80" stroke="#000" stroke-width="1.5"/>
<line x1="294.70" y1="744.60" x2="294.70" y2="755.60" stroke="#000" stroke-width="1.5"/>
<line x1="428.50" y1="1356.80" x2="428.50" y2="1345.80" stroke="#000" stroke-width="1.5"/>
<line x1="428.50" y1="744.60" x2="428.50" y2="755.60" stroke="#000" stroke-width="1.5"/>
<line x1="562.30" y1="1356.80" x2="562.30" y2="1345.80" stroke="#000" stroke-width="1.5"/>
<line x1="562.30" y1="744.60" x2="562.30" y2="755.60" stroke="#000" stroke-width="1.5"/>
<line x1="696.10" y1="1356.80" x2="696.10" y2="1345.80" stroke="#000" stroke-width="1.5"/>
<line x1="696.10" y1="744.60" x2="696.10" y2="755.60" stroke="#000" stroke-width="1.5"/>
<line x1="829.90" y1="1356.80" x2="829.90" y2="1345.80" stroke="#000" stroke-width="1.5"/>
<line x1="829.90" y1="744.60" x2="829.90" y2="755.60" stroke="#000" stroke-width="1.5"/>
<text x="160.90" y="1384.3" font-size="30.5" text-anchor="middle">0.1</text>
<text x="294.70" y="1384.3" font-size="30.5" text-anchor="middle">1</text>
<text x="428.50" y="1384.3" font-size="30.5" text-anchor="middle">10</text>
<text x="562.30" y="1384.3" font-size="30.5" text-anchor="middle">100</text>
<text x="696.10" y="1384.3" font-size="30.5" text-anchor="middle">1000</text>
<text x="829.90" y="1384.3" font-size="30.5" text-anchor="middle">10<tspan dy="-13.5" font-size="21">4</tspan></text>
<text x="128" y="1361.80" font-size="30.5" text-anchor="end">10<tspan dy="-13.5" font-size="21">-1</tspan></text>
<text x="128" y="1236.90" font-size="30.5" text-anchor="end">10<tspan dy="-13.5" font-size="21">0</tspan></text>
<text x="128" y="1112.00" font-size="30.5" text-anchor="end">10<tspan dy="-13.5" font-size="21">1</tspan></text>
<text x="128" y="987.10" font-size="30.5" text-anchor="end">10<tspan dy="-13.5" font-size="21">2</tspan></text>
<text x="128" y="862.20" font-size="30.5" text-anchor="end">10<tspan dy="-13.5" font-size="21">3</tspan></text>
<text x="460.8" y="1427.8" font-size="34">E</text>
<text transform="translate(482.84,1427.8) scale(1.205,1)" font-size="34" font-family='"Liberation Serif", serif'>&#963;</text>
<text x="503.5" y="1442.3" font-size="24">fus</text>
<text x="545.5" y="1427.8" font-size="34">(MeV mb)</text>
<g transform="translate(55.5,1147) rotate(-90)"><text x="0" y="0" font-size="34.2">d(E</text><text transform="translate(52.39,0) scale(1.161,1)" font-size="34.2" font-family='"Liberation Serif", serif'>&#963;</text><text x="74.4" y="0" font-size="34.2">)/dE&#160;&#160;(mb)</text></g>
<circle cx="670.90" cy="1119.40" r="7.7" fill="#ff0000"/>
<text x="704.4" y="1134.6" font-size="34" fill="#ff0000"><tspan font-size="24" dy="-14.8">64</tspan><tspan dy="14.8">Ni+</tspan><tspan font-size="24" dy="-14.8">124</tspan><tspan dy="14.8">Sn</tspan></text>
<circle cx="670.90" cy="1165.40" r="7.7" fill="#0000cc"/>
<text x="704.4" y="1180.8" font-size="34" fill="#0000cc"><tspan font-size="24" dy="-14.8">58</tspan><tspan dy="14.8">Ni+</tspan><tspan font-size="24" dy="-14.8">124</tspan><tspan dy="14.8">Sn</tspan></text>
<rect x="664.20" y="1205.20" width="13.4" height="13.4" fill="#fff" stroke="#ff0000" stroke-width="1.6"/>
<text x="704.4" y="1227.0" font-size="34" fill="#ff0000"><tspan font-size="24" dy="-14.8">64</tspan><tspan dy="14.8">Ni+</tspan><tspan font-size="24" dy="-14.8">132</tspan><tspan dy="14.8">Sn</tspan></text>
<rect x="664.20" y="1251.40" width="13.4" height="13.4" fill="#fff" stroke="#0000cc" stroke-width="1.6"/>
<text x="704.4" y="1273.2" font-size="34" fill="#0000cc"><tspan font-size="24" dy="-14.8">58</tspan><tspan dy="14.8">Ni+</tspan><tspan font-size="24" dy="-14.8">132</tspan><tspan dy="14.8">Sn</tspan></text>
<svg x="148.3" y="744.6" width="816.0" height="612.1999999999999" viewBox="148.3 744.6 816.0 612.1999999999999" overflow="hidden">
<line x1="169.30" y1="1284.60" x2="169.30" y2="1351.40" stroke="#ff0000" stroke-width="1.2"/>
<line x1="165.50" y1="1284.60" x2="173.10" y2="1284.60" stroke="#ff0000" stroke-width="1.2"/>
<line x1="165.50" y1="1351.40" x2="173.10" y2="1351.40" stroke="#ff0000" stroke-width="1.2"/>
<line x1="100.00" y1="1308.20" x2="211.70" y2="1308.20" stroke="#ff0000" stroke-width="1.2"/>
<line x1="100.00" y1="1304.40" x2="100.00" y2="1312.00" stroke="#ff0000" stroke-width="1.2"/>
<line x1="211.70" y1="1304.40" x2="211.70" y2="1312.00" stroke="#ff0000" stroke-width="1.2"/>
<circle cx="169.30" cy="1308.20" r="7.3" fill="#ff0000"/>
<line x1="235.50" y1="1206.20" x2="235.50" y2="1214.00" stroke="#ff0000" stroke-width="1.2"/>
<line x1="231.70" y1="1214.00" x2="239.30" y2="1214.00" stroke="#ff0000" stroke-width="1.2"/>
<line x1="184.00" y1="1206.20" x2="262.60" y2="1206.20" stroke="#ff0000" stroke-width="1.2"/>
<line x1="184.00" y1="1202.40" x2="184.00" y2="1210.00" stroke="#ff0000" stroke-width="1.2"/>
<line x1="262.60" y1="1202.40" x2="262.60" y2="1210.00" stroke="#ff0000" stroke-width="1.2"/>
<circle cx="235.50" cy="1206.20" r="7.3" fill="#ff0000"/>
<line x1="309.40" y1="1128.70" x2="351.10" y2="1128.70" stroke="#ff0000" stroke-width="1.2"/>
<line x1="309.40" y1="1124.90" x2="309.40" y2="1132.50" stroke="#ff0000" stroke-width="1.2"/>
<line x1="351.10" y1="1124.90" x2="351.10" y2="1132.50" stroke="#ff0000" stroke-width="1.2"/>
<circle cx="334.00" cy="1128.70" r="7.3" fill="#ff0000"/>
<line x1="511.30" y1="989.30" x2="511.30" y2="1005.40" stroke="#ff0000" stroke-width="1.2"/>
<line x1="507.50" y1="989.30" x2="515.10" y2="989.30" stroke="#ff0000" stroke-width="1.2"/>
<line x1="507.50" y1="1005.40" x2="515.10" y2="1005.40" stroke="#ff0000" stroke-width="1.2"/>
<circle cx="511.30" cy="996.50" r="7.3" fill="#ff0000"/>
<line x1="593.40" y1="912.90" x2="615.50" y2="912.90" stroke="#ff0000" stroke-width="1.2"/>
<line x1="593.40" y1="909.10" x2="593.40" y2="916.70" stroke="#ff0000" stroke-width="1.2"/>
<line x1="615.50" y1="909.10" x2="615.50" y2="916.70" stroke="#ff0000" stroke-width="1.2"/>
<circle cx="605.60" cy="912.90" r="7.3" fill="#ff0000"/>
<line x1="692.30" y1="873.20" x2="692.30" y2="887.70" stroke="#ff0000" stroke-width="1.2"/>
<line x1="688.50" y1="887.70" x2="696.10" y2="887.70" stroke="#ff0000" stroke-width="1.2"/>
<line x1="681.10" y1="873.20" x2="701.50" y2="873.20" stroke="#ff0000" stroke-width="1.2"/>
<line x1="681.10" y1="869.40" x2="681.10" y2="877.00" stroke="#ff0000" stroke-width="1.2"/>
<line x1="701.50" y1="869.40" x2="701.50" y2="877.00" stroke="#ff0000" stroke-width="1.2"/>
<circle cx="692.30" cy="873.20" r="7.3" fill="#ff0000"/>
<line x1="733.90" y1="864.00" x2="733.90" y2="900.50" stroke="#ff0000" stroke-width="1.2"/>
<line x1="730.10" y1="864.00" x2="737.70" y2="864.00" stroke="#ff0000" stroke-width="1.2"/>
<line x1="730.10" y1="900.50" x2="737.70" y2="900.50" stroke="#ff0000" stroke-width="1.2"/>
<line x1="723.40" y1="877.00" x2="742.60" y2="877.00" stroke="#ff0000" stroke-width="1.2"/>
<line x1="723.40" y1="873.20" x2="723.40" y2="880.80" stroke="#ff0000" stroke-width="1.2"/>
<line x1="742.60" y1="873.20" x2="742.60" y2="880.80" stroke="#ff0000" stroke-width="1.2"/>
<circle cx="733.90" cy="877.00" r="7.3" fill="#ff0000"/>
<line x1="763.10" y1="848.00" x2="763.10" y2="878.40" stroke="#ff0000" stroke-width="1.2"/>
<line x1="759.30" y1="848.00" x2="766.90" y2="848.00" stroke="#ff0000" stroke-width="1.2"/>
<line x1="759.30" y1="878.40" x2="766.90" y2="878.40" stroke="#ff0000" stroke-width="1.2"/>
<line x1="753.30" y1="861.00" x2="771.70" y2="861.00" stroke="#ff0000" stroke-width="1.2"/>
<line x1="753.30" y1="857.20" x2="753.30" y2="864.80" stroke="#ff0000" stroke-width="1.2"/>
<line x1="771.70" y1="857.20" x2="771.70" y2="864.80" stroke="#ff0000" stroke-width="1.2"/>
<circle cx="763.10" cy="861.00" r="7.3" fill="#ff0000"/>
<line x1="786.50" y1="806.50" x2="806.50" y2="806.50" stroke="#ff0000" stroke-width="1.2"/>
<line x1="786.50" y1="802.70" x2="786.50" y2="810.30" stroke="#ff0000" stroke-width="1.2"/>
<line x1="806.50" y1="802.70" x2="806.50" y2="810.30" stroke="#ff0000" stroke-width="1.2"/>
<circle cx="797.00" cy="806.50" r="7.3" fill="#ff0000"/>
<line x1="851.50" y1="800.40" x2="851.50" y2="862.40" stroke="#ff0000" stroke-width="1.2"/>
<line x1="847.70" y1="800.40" x2="855.30" y2="800.40" stroke="#ff0000" stroke-width="1.2"/>
<line x1="847.70" y1="862.40" x2="855.30" y2="862.40" stroke="#ff0000" stroke-width="1.2"/>
<line x1="841.00" y1="822.50" x2="860.50" y2="822.50" stroke="#ff0000" stroke-width="1.2"/>
<line x1="841.00" y1="818.70" x2="841.00" y2="826.30" stroke="#ff0000" stroke-width="1.2"/>
<line x1="860.50" y1="818.70" x2="860.50" y2="826.30" stroke="#ff0000" stroke-width="1.2"/>
<circle cx="851.50" cy="822.50" r="7.3" fill="#ff0000"/>
<line x1="172.80" y1="1292.40" x2="172.80" y2="1340.60" stroke="#0000cc" stroke-width="1.2"/>
<line x1="169.00" y1="1292.40" x2="176.60" y2="1292.40" stroke="#0000cc" stroke-width="1.2"/>
<line x1="169.00" y1="1340.60" x2="176.60" y2="1340.60" stroke="#0000cc" stroke-width="1.2"/>
<line x1="100.00" y1="1311.50" x2="206.50" y2="1311.50" stroke="#0000cc" stroke-width="1.2"/>
<line x1="100.00" y1="1307.70" x2="100.00" y2="1315.30" stroke="#0000cc" stroke-width="1.2"/>
<line x1="206.50" y1="1307.70" x2="206.50" y2="1315.30" stroke="#0000cc" stroke-width="1.2"/>
<circle cx="172.80" cy="1311.50" r="7.3" fill="#0000cc"/>
<line x1="247.90" y1="1216.00" x2="247.90" y2="1223.00" stroke="#0000cc" stroke-width="1.2"/>
<line x1="244.10" y1="1223.00" x2="251.70" y2="1223.00" stroke="#0000cc" stroke-width="1.2"/>
<line x1="218.50" y1="1216.00" x2="267.50" y2="1216.00" stroke="#0000cc" stroke-width="1.2"/>
<line x1="218.50" y1="1212.20" x2="218.50" y2="1219.80" stroke="#0000cc" stroke-width="1.2"/>
<line x1="267.50" y1="1212.20" x2="267.50" y2="1219.80" stroke="#0000cc" stroke-width="1.2"/>
<circle cx="247.90" cy="1216.00" r="7.3" fill="#0000cc"/>
<line x1="322.00" y1="1115.90" x2="359.80" y2="1115.90" stroke="#0000cc" stroke-width="1.2"/>
<line x1="322.00" y1="1112.10" x2="322.00" y2="1119.70" stroke="#0000cc" stroke-width="1.2"/>
<line x1="359.80" y1="1112.10" x2="359.80" y2="1119.70" stroke="#0000cc" stroke-width="1.2"/>
<circle cx="344.20" cy="1115.90" r="7.3" fill="#0000cc"/>
<line x1="478.70" y1="1016.40" x2="501.50" y2="1016.40" stroke="#0000cc" stroke-width="1.2"/>
<line x1="478.70" y1="1012.60" x2="478.70" y2="1020.20" stroke="#0000cc" stroke-width="1.2"/>
<line x1="501.50" y1="1012.60" x2="501.50" y2="1020.20" stroke="#0000cc" stroke-width="1.2"/>
<circle cx="491.20" cy="1016.40" r="7.3" fill="#0000cc"/>
<line x1="619.50" y1="897.00" x2="643.60" y2="897.00" stroke="#0000cc" stroke-width="1.2"/>
<line x1="619.50" y1="893.20" x2="619.50" y2="900.80" stroke="#0000cc" stroke-width="1.2"/>
<line x1="643.60" y1="893.20" x2="643.60" y2="900.80" stroke="#0000cc" stroke-width="1.2"/>
<circle cx="632.40" cy="897.00" r="7.3" fill="#0000cc"/>
<line x1="731.60" y1="844.40" x2="731.60" y2="852.50" stroke="#0000cc" stroke-width="1.2"/>
<line x1="727.80" y1="844.40" x2="735.40" y2="844.40" stroke="#0000cc" stroke-width="1.2"/>
<line x1="718.20" y1="852.50" x2="742.50" y2="852.50" stroke="#0000cc" stroke-width="1.2"/>
<line x1="718.20" y1="848.70" x2="718.20" y2="856.30" stroke="#0000cc" stroke-width="1.2"/>
<line x1="742.50" y1="848.70" x2="742.50" y2="856.30" stroke="#0000cc" stroke-width="1.2"/>
<circle cx="731.60" cy="852.50" r="7.3" fill="#0000cc"/>
<line x1="797.40" y1="796.50" x2="797.40" y2="805.60" stroke="#0000cc" stroke-width="1.2"/>
<line x1="793.60" y1="796.50" x2="801.20" y2="796.50" stroke="#0000cc" stroke-width="1.2"/>
<line x1="785.20" y1="805.60" x2="807.40" y2="805.60" stroke="#0000cc" stroke-width="1.2"/>
<line x1="785.20" y1="801.80" x2="785.20" y2="809.40" stroke="#0000cc" stroke-width="1.2"/>
<line x1="807.40" y1="801.80" x2="807.40" y2="809.40" stroke="#0000cc" stroke-width="1.2"/>
<circle cx="797.40" cy="805.60" r="7.3" fill="#0000cc"/>
<line x1="678.30" y1="857.70" x2="696.10" y2="857.70" stroke="#ff0000" stroke-width="1.2"/>
<line x1="678.30" y1="853.90" x2="678.30" y2="861.50" stroke="#ff0000" stroke-width="1.2"/>
<line x1="696.10" y1="853.90" x2="696.10" y2="861.50" stroke="#ff0000" stroke-width="1.2"/>
<rect x="681.15" y="851.15" width="13.1" height="13.1" fill="#fff" stroke="#ff0000" stroke-width="1.6"/>
<line x1="784.60" y1="835.90" x2="784.60" y2="845.10" stroke="#ff0000" stroke-width="1.2"/>
<line x1="780.80" y1="845.10" x2="788.40" y2="845.10" stroke="#ff0000" stroke-width="1.2"/>
<line x1="774.60" y1="835.90" x2="784.60" y2="835.90" stroke="#ff0000" stroke-width="1.2"/>
<line x1="774.60" y1="832.10" x2="774.60" y2="839.70" stroke="#ff0000" stroke-width="1.2"/>
<rect x="778.05" y="829.35" width="13.1" height="13.1" fill="#fff" stroke="#ff0000" stroke-width="1.6"/>
<line x1="833.70" y1="784.40" x2="833.70" y2="801.20" stroke="#ff0000" stroke-width="1.2"/>
<line x1="829.90" y1="784.40" x2="837.50" y2="784.40" stroke="#ff0000" stroke-width="1.2"/>
<line x1="829.90" y1="801.20" x2="837.50" y2="801.20" stroke="#ff0000" stroke-width="1.2"/>
<line x1="825.20" y1="792.10" x2="833.70" y2="792.10" stroke="#ff0000" stroke-width="1.2"/>
<line x1="825.20" y1="788.30" x2="825.20" y2="795.90" stroke="#ff0000" stroke-width="1.2"/>
<rect x="827.15" y="785.55" width="13.1" height="13.1" fill="#fff" stroke="#ff0000" stroke-width="1.6"/>
<line x1="902.90" y1="761.90" x2="902.90" y2="791.20" stroke="#ff0000" stroke-width="1.2"/>
<line x1="899.10" y1="761.90" x2="906.70" y2="761.90" stroke="#ff0000" stroke-width="1.2"/>
<line x1="899.10" y1="791.20" x2="906.70" y2="791.20" stroke="#ff0000" stroke-width="1.2"/>
<rect x="896.35" y="768.15" width="13.1" height="13.1" fill="#fff" stroke="#ff0000" stroke-width="1.6"/>
<line x1="935.00" y1="700.00" x2="935.00" y2="781.80" stroke="#ff0000" stroke-width="1.2"/>
<line x1="931.20" y1="700.00" x2="938.80" y2="700.00" stroke="#ff0000" stroke-width="1.2"/>
<line x1="931.20" y1="781.80" x2="938.80" y2="781.80" stroke="#ff0000" stroke-width="1.2"/>
<rect x="928.45" y="748.45" width="13.1" height="13.1" fill="#fff" stroke="#ff0000" stroke-width="1.6"/>
<line x1="957.00" y1="765.30" x2="957.00" y2="837.30" stroke="#ff0000" stroke-width="1.2"/>
<line x1="953.20" y1="765.30" x2="960.80" y2="765.30" stroke="#ff0000" stroke-width="1.2"/>
<line x1="953.20" y1="837.30" x2="960.80" y2="837.30" stroke="#ff0000" stroke-width="1.2"/>
<rect x="950.45" y="783.95" width="13.1" height="13.1" fill="#fff" stroke="#ff0000" stroke-width="1.6"/>
<line x1="668.20" y1="896.80" x2="686.80" y2="896.80" stroke="#0000cc" stroke-width="1.2"/>
<line x1="668.20" y1="893.00" x2="668.20" y2="900.60" stroke="#0000cc" stroke-width="1.2"/>
<line x1="686.80" y1="893.00" x2="686.80" y2="900.60" stroke="#0000cc" stroke-width="1.2"/>
<rect x="671.95" y="890.25" width="13.1" height="13.1" fill="#fff" stroke="#0000cc" stroke-width="1.6"/>
<rect x="725.45" y="851.05" width="13.1" height="13.1" fill="#fff" stroke="#0000cc" stroke-width="1.6"/>
<rect x="787.55" y="807.15" width="13.1" height="13.1" fill="#fff" stroke="#0000cc" stroke-width="1.6"/>
<rect x="837.15" y="782.15" width="13.1" height="13.1" fill="#fff" stroke="#0000cc" stroke-width="1.6"/>
<line x1="894.60" y1="771.40" x2="894.60" y2="794.80" stroke="#0000cc" stroke-width="1.2"/>
<line x1="890.80" y1="771.40" x2="898.40" y2="771.40" stroke="#0000cc" stroke-width="1.2"/>
<line x1="890.80" y1="794.80" x2="898.40" y2="794.80" stroke="#0000cc" stroke-width="1.2"/>
<rect x="888.05" y="775.85" width="13.1" height="13.1" fill="#fff" stroke="#0000cc" stroke-width="1.6"/>
<line x1="922.50" y1="769.70" x2="922.50" y2="804.90" stroke="#0000cc" stroke-width="1.2"/>
<line x1="918.70" y1="769.70" x2="926.30" y2="769.70" stroke="#0000cc" stroke-width="1.2"/>
<line x1="918.70" y1="804.90" x2="926.30" y2="804.90" stroke="#0000cc" stroke-width="1.2"/>
<rect x="915.95" y="777.65" width="13.1" height="13.1" fill="#fff" stroke="#0000cc" stroke-width="1.6"/>
<line x1="943.10" y1="772.00" x2="943.10" y2="805.50" stroke="#0000cc" stroke-width="1.2"/>
<line x1="939.30" y1="772.00" x2="946.90" y2="772.00" stroke="#0000cc" stroke-width="1.2"/>
<line x1="939.30" y1="805.50" x2="946.90" y2="805.50" stroke="#0000cc" stroke-width="1.2"/>
<line x1="934.40" y1="786.40" x2="943.10" y2="786.40" stroke="#0000cc" stroke-width="1.2"/>
<line x1="934.40" y1="782.60" x2="934.40" y2="790.20" stroke="#0000cc" stroke-width="1.2"/>
<rect x="936.55" y="779.85" width="13.1" height="13.1" fill="#fff" stroke="#0000cc" stroke-width="1.6"/>
</svg>
<rect x="148.3" y="744.6" width="816.0" height="612.1999999999999" fill="none" stroke="#000" stroke-width="1.7"/>
</svg>
</body></html>
